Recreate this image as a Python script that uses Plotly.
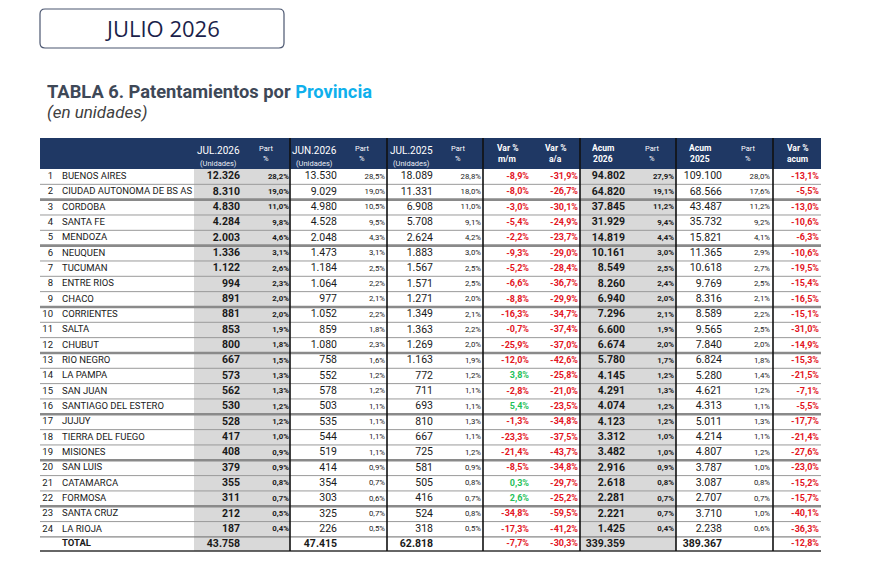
import plotly.graph_objects as go

# ---- data -------------------------------------------------------------
provincias = ["BUENOS AIRES", "CIUDAD AUTONOMA DE BS AS", "CORDOBA", "SANTA FE",
              "MENDOZA", "NEUQUEN", "TUCUMAN", "ENTRE RIOS", "CHACO", "CORRIENTES",
              "SALTA", "CHUBUT", "RIO NEGRO", "LA PAMPA", "SAN JUAN",
              "SANTIAGO DEL ESTERO", "JUJUY", "TIERRA DEL FUEGO", "MISIONES",
              "SAN LUIS", "CATAMARCA", "FORMOSA", "SANTA CRUZ", "LA RIOJA"]

jul_2026 = [12326, 8310, 4830, 4284, 2003, 1336, 1122, 994, 891, 881, 853, 800,
            667, 573, 562, 530, 528, 417, 408, 379, 355, 311, 212, 187]
part_jul_2026 = [28.2, 19.0, 11.0, 9.8, 4.6, 3.1, 2.6, 2.3, 2.0, 2.0, 1.9, 1.8,
                 1.5, 1.3, 1.3, 1.2, 1.2, 1.0, 0.9, 0.9, 0.8, 0.7, 0.5, 0.4]
jun_2026 = [13530, 9029, 4980, 4528, 2048, 1473, 1184, 1064, 977, 1052, 859, 1080,
            758, 552, 578, 503, 535, 544, 519, 414, 354, 303, 325, 226]
part_jun_2026 = [28.5, 19.0, 10.5, 9.5, 4.3, 3.1, 2.5, 2.2, 2.1, 2.2, 1.8, 2.3,
                 1.6, 1.2, 1.2, 1.1, 1.1, 1.1, 1.1, 0.9, 0.7, 0.6, 0.7, 0.5]
jul_2025 = [18089, 11331, 6908, 5708, 2624, 1883, 1567, 1571, 1271, 1349, 1363, 1269,
            1163, 772, 711, 693, 810, 667, 725, 581, 505, 416, 524, 318]
part_jul_2025 = [28.8, 18.0, 11.0, 9.1, 4.2, 3.0, 2.5, 2.5, 2.0, 2.1, 2.2, 2.0,
                 1.9, 1.2, 1.1, 1.1, 1.3, 1.1, 1.2, 0.9, 0.8, 0.7, 0.8, 0.5]
var_mm = [-8.9, -8.0, -3.0, -5.4, -2.2, -9.3, -5.2, -6.6, -8.8, -16.3, -0.7, -25.9,
          -12.0, 3.8, -2.8, 5.4, -1.3, -23.3, -21.4, -8.5, 0.3, 2.6, -34.8, -17.3]
var_aa = [-31.9, -26.7, -30.1, -24.9, -23.7, -29.0, -28.4, -36.7, -29.9, -34.7, -37.4, -37.0,
          -42.6, -25.8, -21.0, -23.5, -34.8, -37.5, -43.7, -34.8, -29.7, -25.2, -59.5, -41.2]
acum_2026 = [94802, 64820, 37845, 31929, 14819, 10161, 8549, 8260, 6940, 7296, 6600, 6674,
             5780, 4145, 4291, 4074, 4123, 3312, 3482, 2916, 2618, 2281, 2221, 1425]
part_acum_2026 = [27.9, 19.1, 11.2, 9.4, 4.4, 3.0, 2.5, 2.4, 2.0, 2.1, 1.9, 2.0,
                  1.7, 1.2, 1.3, 1.2, 1.2, 1.0, 1.0, 0.9, 0.8, 0.7, 0.7, 0.4]
acum_2025 = [109100, 68566, 43487, 35732, 15821, 11365, 10618, 9769, 8316, 8589, 9565, 7840,
             6824, 5280, 4621, 4313, 5011, 4214, 4807, 3787, 3087, 2707, 3710, 2238]
part_acum_2025 = [28.0, 17.6, 11.2, 9.2, 4.1, 2.9, 2.7, 2.5, 2.1, 2.2, 2.5, 2.0,
                  1.8, 1.4, 1.2, 1.1, 1.3, 1.1, 1.2, 1.0, 0.8, 0.7, 1.0, 0.6]
var_acum = [-13.1, -5.5, -13.0, -10.6, -6.3, -10.6, -19.5, -15.4, -16.5, -15.1, -31.0, -14.9,
            -15.3, -21.5, -7.1, -5.5, -17.7, -21.4, -27.6, -23.0, -15.2, -15.7, -40.1, -36.3]

total = {"jul_2026": 43758, "jun_2026": 47415, "jul_2025": 62818, "var_mm": -7.7,
         "var_aa": -30.3, "acum_2026": 339359, "acum_2025": 389367, "var_acum": -12.8}

header_top = ["JUL.2026", "Part", "JUN.2026", "Part", "JUL.2025", "Part", "Var %", "Var %",
              "Acum", "Part", "Acum", "Part", "Var %"]
header_bottom = ["(Unidades)", "%", "(Unidades)", "%", "(Unidades)", "%", "m/m", "a/a",
                 "2026", "%", "2025", "%", "acum"]


def miles(v):
    return f"{v:,}".replace(",", ".")


def pct(v):
    return f"{v:.1f}%".replace(".", ",")


# ---- layout (pixel units of the page) --------------------------------
TOP, ROW_H = 169, 15.33
LEFT, RIGHT = 40, 821
n = len(provincias)
y_rows = [TOP + ROW_H * (i + 0.5) for i in range(n)]
y_total = TOP + ROW_H * n + 7
y_bottom = TOP + ROW_H * n + 14
col_lines = [290, 387, 483, 580, 676, 773]
gray_cols = [(194, 290), (580, 676)]
thick_after = [2, 5, 9, 12, 16, 19, 22]
header_x = [218, 266, 314, 362, 411, 458, 507, 555, 603, 652, 700, 748, 797]

NAVY = "#1f3864"
RED = "#e3141e"
GREEN = "#1fc15a"
FONT = "Roboto"

fig = go.Figure()

shapes = []
# header band and shaded columns
shapes.append(dict(type="rect", x0=LEFT, x1=RIGHT, y0=138, y1=TOP, fillcolor=NAVY,
                   line_width=0, layer="below"))
for x0, x1 in gray_cols:
    shapes.append(dict(type="rect", x0=x0, x1=x1, y0=TOP, y1=y_bottom, fillcolor="#d9d9d9",
                       line_width=0, layer="below"))
# row separators
for i in range(1, n):
    y = TOP + ROW_H * i
    if i in thick_after:
        shapes.append(dict(type="line", x0=LEFT, x1=RIGHT, y0=y, y1=y,
                           line=dict(color="#8a8a8a", width=2.6), layer="below"))
    else:
        shapes.append(dict(type="line", x0=LEFT, x1=RIGHT, y0=y, y1=y,
                           line=dict(color="#9a9a9a", width=1), layer="below"))
shapes.append(dict(type="line", x0=LEFT, x1=RIGHT, y0=TOP + ROW_H * n, y1=TOP + ROW_H * n,
                   line=dict(color="#6b6b6b", width=1), layer="below"))
shapes.append(dict(type="line", x0=LEFT, x1=RIGHT, y0=y_bottom, y1=y_bottom,
                   line=dict(color="#333333", width=1.5), layer="below"))
for x in col_lines:
    shapes.append(dict(type="line", x0=x, x1=x, y0=138, y1=y_bottom,
                       line=dict(color="#111111", width=1.6), layer="below"))
# "JULIO 2026" box with rounded corners
bx0, bx1, by0, by1, r = 40, 284, 9, 48, 5
shapes.append(dict(
    type="path",
    path=(f"M {bx0 + r},{by0} L {bx1 - r},{by0} Q {bx1},{by0} {bx1},{by0 + r} "
          f"L {bx1},{by1 - r} Q {bx1},{by1} {bx1 - r},{by1} L {bx0 + r},{by1} "
          f"Q {bx0},{by1} {bx0},{by1 - r} L {bx0},{by0 + r} Q {bx0},{by0} {bx0 + r},{by0} Z"),
    line=dict(color="#4b5670", width=1.2), fillcolor="white", layer="below"))


def col_text(x, texts, ys, size, color="#1a1a1a", pos="middle left"):
    fig.add_trace(go.Scatter(
        x=[x] * len(texts), y=ys, mode="text", text=texts, textposition=pos,
        textfont=dict(family=FONT, size=size, color=color),
        hoverinfo="skip", showlegend=False))


def var_colors(vals):
    return [GREEN if v >= 0 else RED for v in vals]


b = lambda s: f"<b>{s}</b>"
ys_all = y_rows + [y_total]

col_text(53, [str(i + 1) for i in range(n)], y_rows, 9.5)
col_text(62, provincias + [b("TOTAL")], ys_all, 9.5, pos="middle right")
col_text(240, [b(miles(v)) for v in jul_2026 + [total["jul_2026"]]], ys_all, 10.5)
col_text(289, [b(pct(v)) for v in part_jul_2026], y_rows, 7.8)
col_text(337, [miles(v) for v in jun_2026] + [b(miles(total["jun_2026"]))], ys_all, 10.5)
col_text(385, [pct(v) for v in part_jun_2026], y_rows, 7.8)
col_text(433, [miles(v) for v in jul_2025] + [b(miles(total["jul_2025"]))], ys_all, 10.5)
col_text(481, [pct(v) for v in part_jul_2025], y_rows, 7.8)
mm = var_mm + [total["var_mm"]]
col_text(529, [b(pct(v)) for v in mm], ys_all, 9, var_colors(mm))
aa = var_aa + [total["var_aa"]]
col_text(578, [b(pct(v)) for v in aa], ys_all, 9, var_colors(aa))
col_text(625, [b(miles(v)) for v in acum_2026 + [total["acum_2026"]]], ys_all, 10.5)
col_text(674, [b(pct(v)) for v in part_acum_2026], y_rows, 7.8)
col_text(722, [miles(v) for v in acum_2025] + [b(miles(total["acum_2025"]))], ys_all, 10.5)
col_text(770, [pct(v) for v in part_acum_2025], y_rows, 7.8)
va = var_acum + [total["var_acum"]]
col_text(819, [b(pct(v)) for v in va], ys_all, 9, var_colors(va))

annotations = []
for x, t1, t2 in zip(header_x, header_top, header_bottom):
    if t2 == "(Unidades)":
        annotations.append(dict(x=x, y=150, text=t1, font=dict(size=10, color="white")))
        annotations.append(dict(x=x, y=163.5, text=t2, font=dict(size=7.5, color="#e8ecf4")))
    elif t1 == "Part":
        annotations.append(dict(x=x, y=148, text=t1, font=dict(size=7.5, color="white")))
        annotations.append(dict(x=x, y=158, text=t2, font=dict(size=7.5, color="white")))
    else:
        annotations.append(dict(x=x, y=148, text=b(t1), font=dict(size=8.5, color="white")))
        annotations.append(dict(x=x, y=159, text=b(t2), font=dict(size=8.5, color="white")))
for a in annotations:
    a.update(xref="x", yref="y", showarrow=False, xanchor="center", yanchor="middle")
    a["font"]["family"] = FONT

annotations.append(dict(x=162, y=28, xref="x", yref="y", showarrow=False, text="JULIO 2026",
                        font=dict(family="Open Sans", size=22, color="#1b1f4b")))
annotations.append(dict(x=45, y=91, xref="x", yref="y", showarrow=False, xanchor="left",
                        text=("<b>TABLA 6. Patentamientos por "
                              "<span style='color:#0fb0ec'>Provincia</span></b>"),
                        font=dict(family=FONT, size=18.3, color="#3e4857")))
annotations.append(dict(x=45, y=112, xref="x", yref="y", showarrow=False, xanchor="left",
                        text="<i>(en unidades)</i>",
                        font=dict(family=FONT, size=17, color="#404040")))

# page body adds an 8px margin, so axes are offset to keep page pixel coordinates
fig.update_layout(
    width=869, height=556,
    margin=dict(l=0, r=0, t=0, b=0, pad=0),
    paper_bgcolor="white", plot_bgcolor="white",
    xaxis=dict(range=[8, 877], visible=False, fixedrange=True),
    yaxis=dict(range=[564, 8], visible=False, fixedrange=True),
    shapes=shapes, annotations=annotations,
)

fig.write_html("out.html")
